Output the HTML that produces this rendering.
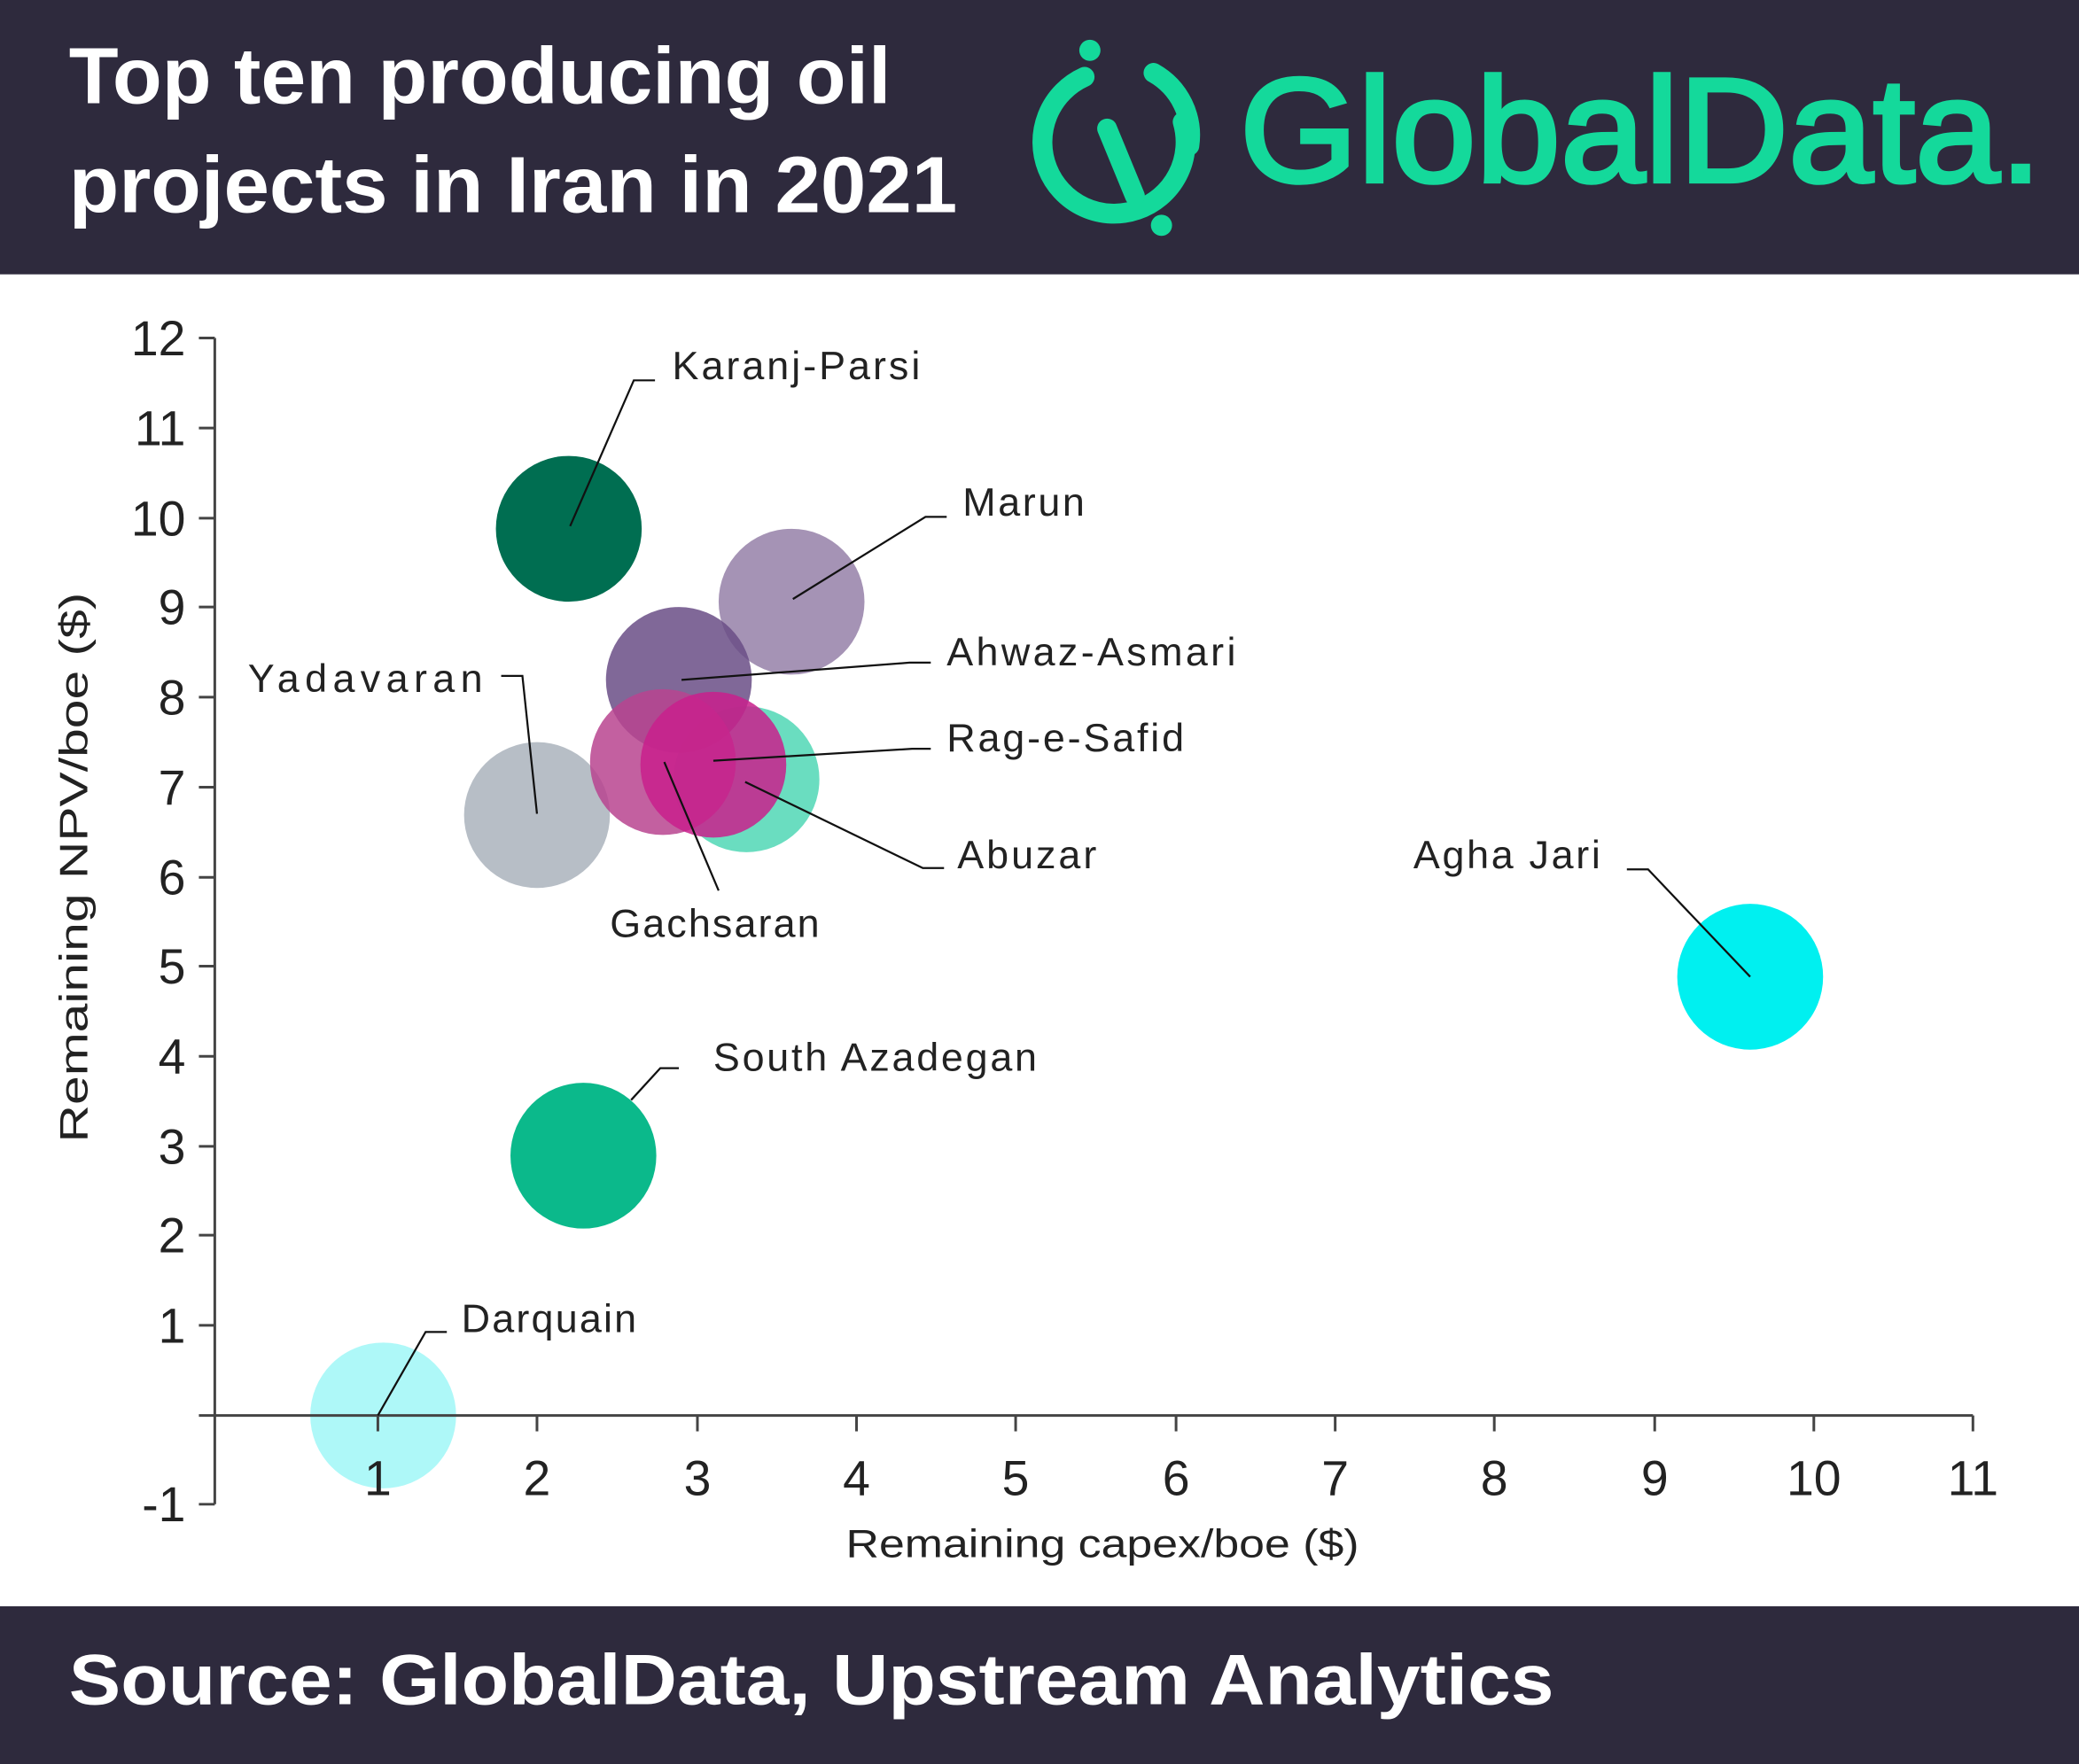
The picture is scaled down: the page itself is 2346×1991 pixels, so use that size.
<!DOCTYPE html>
<html><head><meta charset="utf-8"><style>
html,body{margin:0;padding:0;background:#fff}
svg{display:block}
text{font-family:"Liberation Sans",sans-serif}
</style></head><body>
<svg width="2346" height="1991" viewBox="0 0 1568 1331" preserveAspectRatio="none" xmlns="http://www.w3.org/2000/svg">
<rect x="0" y="0" width="1568" height="207" fill="#2e2a3d"/>
<rect x="0" y="1212" width="1568" height="119" fill="#2e2a3d"/>
<text x="52" y="78" font-size="60" font-weight="bold" fill="#fff" textLength="620" lengthAdjust="spacingAndGlyphs">Top ten producing oil</text>
<text x="52" y="160" font-size="60" font-weight="bold" fill="#fff" textLength="670" lengthAdjust="spacingAndGlyphs">projects in Iran in 2021</text>
<g stroke="#14d99b" stroke-width="15" fill="none" stroke-linecap="round">
<path d="M818 58 A54 54 0 1 0 892 92"/>
<path d="M870 55 A54 54 0 0 1 897 110"/>
<line x1="835" y1="97" x2="856" y2="148"/>
</g>
<circle cx="822" cy="38" r="8" fill="#14d99b"/>
<circle cx="876" cy="170" r="8" fill="#14d99b"/>
<text x="935" y="137" font-size="112" fill="#14d99b" stroke="#14d99b" stroke-width="3" textLength="605" lengthAdjust="spacingAndGlyphs">GlobalData.</text>
<text x="52" y="1286" font-size="54" font-weight="bold" fill="#fff" textLength="1120" lengthAdjust="spacingAndGlyphs">Source: GlobalData, Upstream Analytics</text>

<circle cx="289" cy="1068" r="55" fill="#aef8f8"/>
<circle cx="440" cy="872" r="55" fill="#0bb98b"/>
<circle cx="1320" cy="737" r="55" fill="#00f0f0"/>
<circle cx="405" cy="615" r="55" fill="#b7bec6"/>
<circle cx="429" cy="399" r="55" fill="#006e51"/>
<circle cx="597" cy="454" r="55" fill="#a593b5"/>
<circle cx="563" cy="588" r="55" fill="#6addc0"/>
<circle cx="512" cy="513" r="55" fill="#6a4d86" fill-opacity="0.85"/>
<circle cx="500" cy="575" r="55" fill="#b8448f" fill-opacity="0.85"/>
<circle cx="538" cy="577" r="55" fill="#c9208c" fill-opacity="0.85"/>

<g stroke="#444" stroke-width="2">
<line x1="162" y1="255" x2="162" y2="1135"/>
<line x1="150" y1="1068" x2="1488" y2="1068"/>
<line x1="150" y1="255" x2="162" y2="255"/><line x1="150" y1="323" x2="162" y2="323"/><line x1="150" y1="391" x2="162" y2="391"/><line x1="150" y1="458" x2="162" y2="458"/><line x1="150" y1="526" x2="162" y2="526"/><line x1="150" y1="594" x2="162" y2="594"/><line x1="150" y1="662" x2="162" y2="662"/><line x1="150" y1="729" x2="162" y2="729"/><line x1="150" y1="797" x2="162" y2="797"/><line x1="150" y1="865" x2="162" y2="865"/><line x1="150" y1="932" x2="162" y2="932"/><line x1="150" y1="1000" x2="162" y2="1000"/><line x1="150" y1="1135" x2="162" y2="1135"/>
<line x1="285" y1="1068" x2="285" y2="1080"/><line x1="405" y1="1068" x2="405" y2="1080"/><line x1="526" y1="1068" x2="526" y2="1080"/><line x1="646" y1="1068" x2="646" y2="1080"/><line x1="766" y1="1068" x2="766" y2="1080"/><line x1="887" y1="1068" x2="887" y2="1080"/><line x1="1007" y1="1068" x2="1007" y2="1080"/><line x1="1127" y1="1068" x2="1127" y2="1080"/><line x1="1248" y1="1068" x2="1248" y2="1080"/><line x1="1368" y1="1068" x2="1368" y2="1080"/><line x1="1488" y1="1068" x2="1488" y2="1080"/>
</g>
<g font-size="37" fill="#222" text-anchor="end">
<text x="140" y="268">12</text><text x="140" y="336">11</text><text x="140" y="404">10</text><text x="140" y="471">9</text><text x="140" y="539">8</text><text x="140" y="607">7</text><text x="140" y="675">6</text><text x="140" y="742">5</text><text x="140" y="810">4</text><text x="140" y="878">3</text><text x="140" y="945">2</text><text x="140" y="1013">1</text><text x="140" y="1148">-1</text>
</g>
<g font-size="37" fill="#222" text-anchor="middle">
<text x="285" y="1128">1</text><text x="405" y="1128">2</text><text x="526" y="1128">3</text><text x="646" y="1128">4</text><text x="766" y="1128">5</text><text x="887" y="1128">6</text><text x="1007" y="1128">7</text><text x="1127" y="1128">8</text><text x="1248" y="1128">9</text><text x="1368" y="1128">10</text><text x="1488" y="1128">11</text>
</g>
<text x="638" y="1175" font-size="30" fill="#222" textLength="387" lengthAdjust="spacingAndGlyphs">Remaining capex/boe ($)</text>
<text transform="translate(66 862) rotate(-90)" font-size="30" fill="#222" textLength="415" lengthAdjust="spacingAndGlyphs">Remaining NPV/boe ($)</text>

<g stroke="#111" stroke-width="1.5" fill="none">
<polyline points="430,397 478,287 494,287"/>
<polyline points="598,452 698,390 714,390"/>
<polyline points="514,513 686,500 702,500"/>
<polyline points="538,574 688,565 702,565"/>
<polyline points="562,590 696,655 712,655"/>
<polyline points="501,575 542,672"/>
<polyline points="405,614 394,510 378,510"/>
<polyline points="1320,737 1243,656 1227,656"/>
<polyline points="476,830 498,806 512,806"/>
<polyline points="285,1068 321,1005 337,1005"/>
</g>
<g font-size="30" fill="#222" lengthAdjust="spacingAndGlyphs">
<text x="507" y="286" textLength="187">Karanj-Parsi</text>
<text x="726" y="389" textLength="92">Marun</text>
<text x="714" y="502" textLength="218">Ahwaz-Asmari</text>
<text x="714" y="567" textLength="179">Rag-e-Safid</text>
<text x="722" y="655" textLength="105">Abuzar</text>
<text x="460" y="707" textLength="158">Gachsaran</text>
<text x="187" y="522" textLength="177">Yadavaran</text>
<text x="1066" y="655" textLength="141">Agha Jari</text>
<text x="538" y="808" textLength="244">South Azadegan</text>
<text x="348" y="1005" textLength="132">Darquain</text>
</g>
</svg>
</body></html>
